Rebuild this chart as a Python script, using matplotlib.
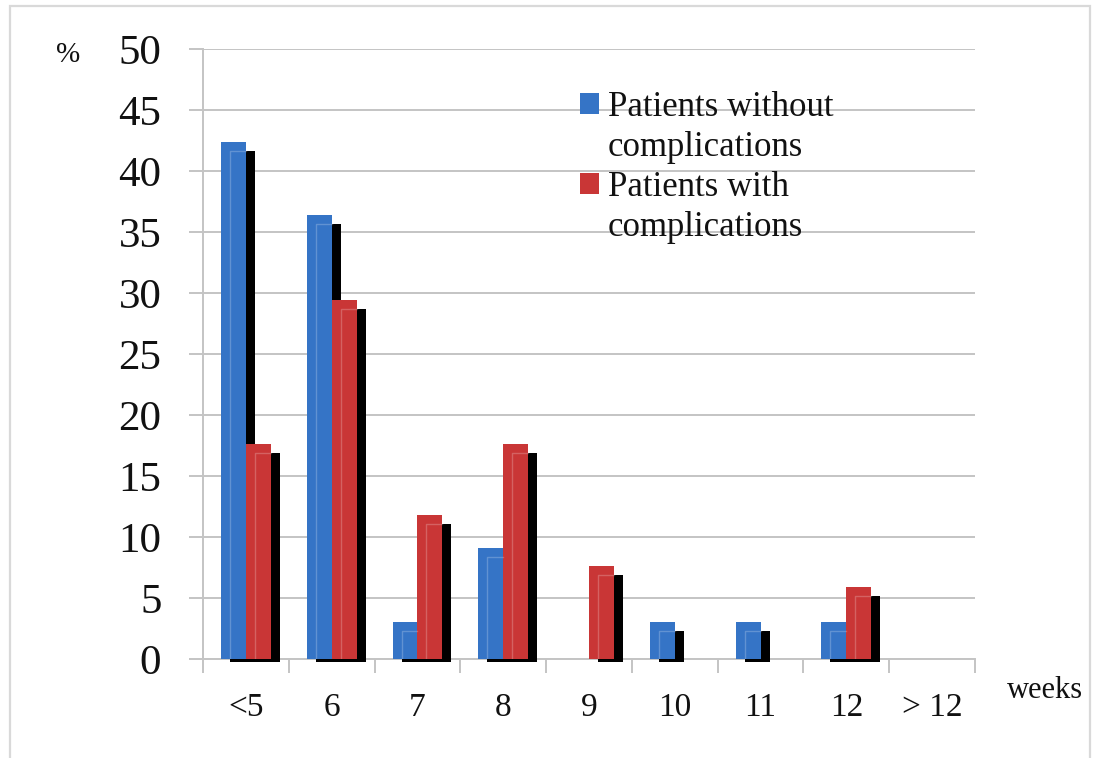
import numpy as np
import matplotlib
matplotlib.use("Agg")
import matplotlib.pyplot as plt
from matplotlib.patches import Rectangle

plt.rcParams['font.family'] = ['Liberation Serif', 'DejaVu Serif']

categories = ["<5", "6", "7", "8", "9", "10", "11", "12", "> 12"]
without_compl = [42.4, 36.4, 3.0, 9.1, 0.0, 3.0, 3.0, 3.0, 0.0]
with_compl = [17.6, 29.4, 11.8, 17.6, 7.6, 0.0, 0.0, 5.9, 0.0]
yticks = [0, 5, 10, 15, 20, 25, 30, 35, 40, 45, 50]

blue = "#3574c6"
red = "#c93636"
grid_col = "#c4c4c4"

W, H = 1093, 758
fig = plt.figure(figsize=(W / 100, H / 100), dpi=100)
ax = fig.add_axes([203 / W, 1 - 659 / H, 772 / W, 610 / H])

x = np.arange(len(categories))
bw = 0.29
# shadow offset: ~9 px right, ~9 px down
dx = 9 / 85.8
dy = 9 / 12.2
dbot = 3 / 12.2


def draw_series(xs, vals, color):
    for xi, v in zip(xs, vals):
        if v <= 0:
            continue
        ax.add_patch(Rectangle((xi + dx, -dbot), bw, v - dy + dbot, facecolor="black",
                               edgecolor="none", zorder=3, clip_on=False))
        ax.bar(xi, v, width=bw, align="edge", color=color, zorder=4)
        # faint inner edge of the shadow showing through
        ax.plot([xi + dx, xi + dx, xi + bw], [0, v - dy, v - dy], color="white",
                alpha=0.22, lw=1, zorder=5)


draw_series(x - bw, without_compl, blue)
draw_series(x, with_compl, red)

ax.set_xlim(-0.5, len(categories) - 0.5)
ax.set_ylim(0, 50)
ax.set_yticks(yticks)
ax.set_yticklabels([str(t) for t in yticks], fontsize=31, color="#111111")
ax.set_xticks(x)
ax.set_xticklabels(categories, fontsize=24, color="#111111")
ax.set_xticks(np.arange(len(categories) + 1) - 0.5, minor=True)
ax.tick_params(axis="x", which="major", length=0, pad=24)
ax.tick_params(axis="x", which="minor", length=10, width=1.4, color=grid_col)
ax.tick_params(axis="y", which="major", length=10, width=1.4, color=grid_col, pad=20)

ax.grid(axis="y", color=grid_col, lw=1.4, zorder=0)
ax.set_axisbelow(True)
for s in ["top", "right"]:
    ax.spines[s].set_visible(False)
for s in ["left", "bottom"]:
    ax.spines[s].set_color(grid_col)
    ax.spines[s].set_linewidth(1.4)

fig.text(68 / W, 1 - 55 / H, "%", fontsize=21, color="#111111", ha="center", va="center")
fig.text(1045 / W, 1 - 690 / H, "weeks", fontsize=22, color="#111111", ha="center", va="center")

# legend: handle only on first line of each label
h_blue = Rectangle((0, 0), 1, 1, facecolor=blue, edgecolor="none")
h_red = Rectangle((0, 0), 1, 1, facecolor=red, edgecolor="none")
h_none = Rectangle((0, 0), 1, 1, facecolor="none", edgecolor="none")
leg = ax.legend([h_blue, h_none, h_red, h_none],
                ["Patients without", "complications", "Patients with", "complications"],
                loc="upper left", bbox_to_anchor=(580 / W, 1 - 91 / H),
                bbox_transform=fig.transFigure, frameon=False, fontsize=25,
                handlelength=0.55, handleheight=0.55, handletextpad=0.25,
                labelspacing=0.2, borderpad=0, borderaxespad=0)
for t in leg.get_texts():
    t.set_color("#111111")

# outer chart frame
fig.patches.append(Rectangle((10 / W, -0.05), 1080 / W, 1.05 - 6 / H, transform=fig.transFigure,
                             facecolor="none", edgecolor="#d9d9d9", lw=1.6, figure=fig))

fig.savefig("out.png", dpi=100)
